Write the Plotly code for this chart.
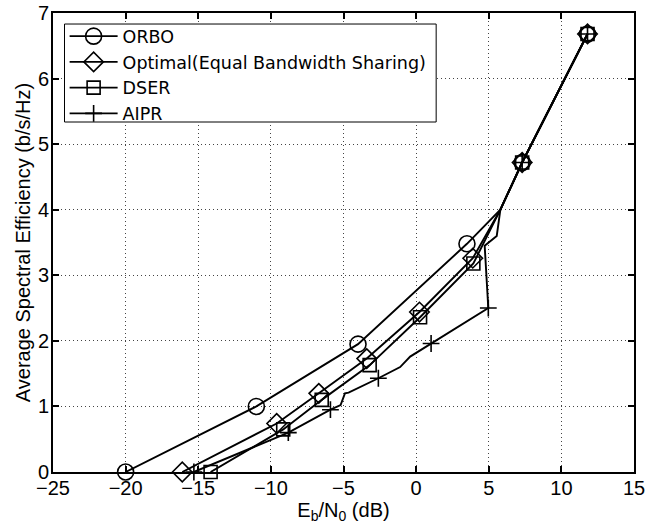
import plotly.graph_objects as go

# ---- data ----
orbo_x = [-20, -11, -4, 3.5, 5.8, 7.3, 11.8]
orbo_y = [0, 1.0, 1.95, 3.48, 4.0, 4.72, 6.68]
orbo_mx = [-20, -11, -4, 3.5, 7.3, 11.8]
orbo_my = [0, 1.0, 1.95, 3.48, 4.72, 6.68]

opt_x = [-16.1, -9.6, -6.7, -3.4, 0.23, 3.9, 5.8, 7.3, 11.8]
opt_y = [0, 0.74, 1.2, 1.73, 2.44, 3.26, 4.0, 4.72, 6.68]
opt_mx = [-16.1, -9.6, -6.7, -3.4, 0.23, 3.9, 7.3, 11.8]
opt_my = [0, 0.74, 1.2, 1.73, 2.44, 3.26, 4.72, 6.68]

dser_x = [-14.15, -9.15, -6.5, -3.2, 0.27, 3.94, 5.8, 7.3, 11.8]
dser_y = [0, 0.65, 1.1, 1.63, 2.36, 3.18, 4.0, 4.72, 6.68]
dser_mx = [-14.15, -9.15, -6.5, -3.2, 0.27, 3.94, 7.3, 11.8]
dser_my = [0, 0.65, 1.1, 1.63, 2.36, 3.18, 4.72, 6.68]

aipr_x = [-15.3, -8.8, -5.9, -5.2, -4.9, -4.65, -2.6, -1.1, -0.41, 1.03, 4.97, 4.72, 5.55, 5.8, 7.3, 11.8]
aipr_y = [0, 0.6, 0.95, 1.02, 1.2, 1.21, 1.43, 1.6, 1.76, 1.96, 2.5, 3.45, 3.6, 4.0, 4.72, 6.68]
aipr_mx = [-15.3, -8.8, -5.9, -2.6, 1.03, 4.97, 7.3, 11.8]
aipr_my = [0, 0.6, 0.95, 1.43, 1.96, 2.5, 4.72, 6.68]

names = ["ORBO", "Optimal(Equal Bandwidth Sharing)", "DSER", "AIPR"]
x_ticks = [-25, -20, -15, -10, -5, 0, 5, 10, 15]
y_ticks = [0, 1, 2, 3, 4, 5, 6, 7]

FONT = "Liberation Sans, Arial, Helvetica, sans-serif"
LEG_FONT = "DejaVu Sans, Liberation Sans, sans-serif"
LW = 1.9
series = [
    (orbo_x, orbo_y, orbo_mx, orbo_my, "circle-open", 16),
    (opt_x, opt_y, opt_mx, opt_my, "diamond-open", 15),
    (dser_x, dser_y, dser_mx, dser_my, "square-open", 13),
    (aipr_x, aipr_y, aipr_mx, aipr_my, "cross-thin-open", 12),
]

fig = go.Figure()
for (lx, ly, mx, my, sym, sz), nm in zip(series, names):
    fig.add_trace(go.Scatter(x=lx, y=ly, mode="lines", line=dict(color="black", width=LW),
                             showlegend=False, cliponaxis=False, hoverinfo="skip"))
    fig.add_trace(go.Scatter(x=mx, y=my, mode="markers",
                             marker=dict(symbol=sym, size=sz, color="black",
                                         line=dict(color="black", width=1.6)),
                             showlegend=False, cliponaxis=False))
for (lx, ly, mx, my, sym, sz), nm in zip(series, names):
    fig.add_trace(go.Scatter(x=[None], y=[None], mode="lines+markers", name=nm,
                             line=dict(color="black", width=LW),
                             marker=dict(symbol=sym, size=sz, color="black",
                                         line=dict(color="black", width=1.6))))

axis_common = dict(showline=True, linecolor="black", linewidth=2, mirror="ticks",
                   ticks="inside", ticklen=6, tickwidth=1.5, tickcolor="black",
                   showgrid=True, gridcolor="#444", gridwidth=1, griddash="1px,3px",
                   zeroline=False, automargin=False,
                   tickfont=dict(size=20, color="black", family=FONT))

fig.update_xaxes(range=[-25, 15], tickvals=x_ticks, ticklabelstandoff=-3,
                 title=dict(text="E<sub>b</sub>/N<sub>0</sub> (dB)", font=dict(size=20, color="black", family=FONT), standoff=0),
                 **axis_common)
fig.update_yaxes(range=[0, 7], tickvals=y_ticks, ticklabelstandoff=-2,
                 title=dict(text="Average Spectral Efficiency (b/s/Hz)", font=dict(size=20, color="black", family=FONT), standoff=2),
                 **axis_common)

# legend frame (opaque white box with black border, like the MATLAB legend)
fig.add_shape(type="rect", xref="paper", yref="paper",
              x0=0.0198, x1=0.6595, y0=0.7625, y1=0.976,
              fillcolor="white", line=dict(color="black", width=1), layer="above")

fig.update_layout(
    width=658, height=528,
    margin=dict(l=53, r=24, t=13, b=56),
    plot_bgcolor="white", paper_bgcolor="white",
    font=dict(family=FONT, size=20, color="black"),
    legend=dict(x=0.02, y=0.9885, xanchor="left", yanchor="top",
                bgcolor="rgba(0,0,0,0)", borderwidth=0,
                font=dict(size=17.5, color="black", family=LEG_FONT),
                tracegroupgap=0, itemwidth=48),
)

fig.write_html("out.html", config={"displayModeBar": False},
               post_script="document.body.style.margin='0px';")
